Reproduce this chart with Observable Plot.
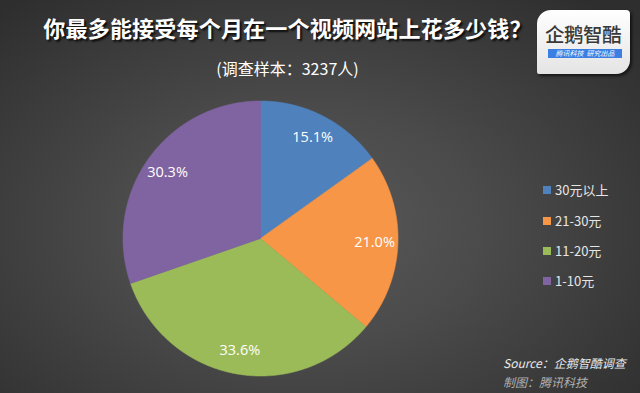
<!DOCTYPE html>
<html><head><meta charset="utf-8">
<script src="https://cdn.jsdelivr.net/npm/d3@7"></script>
<script src="https://cdn.jsdelivr.net/npm/@observablehq/plot@0.6"></script>
<style>
html,body{margin:0;padding:0;}
#wrap{position:relative;width:640px;height:393px;overflow:hidden;
  background:radial-gradient(ellipse 70% 75% at 47% 58%, #5a5a5a 0%, #4b4b4b 40%, #2e2e2e 100%);
  font-family:"Noto Sans CJK SC","Noto Sans",sans-serif;}
#title{position:absolute;left:0;width:575px;top:12px;text-align:center;font-size:22px;font-weight:bold;color:#fff;
  letter-spacing:0.2px;text-shadow:2px 2px 2px rgba(0,0,0,0.8);line-height:30px;}
#sub{position:absolute;left:0;width:575px;top:57px;text-align:center;font-size:16px;color:#fff;line-height:22px;}
#chart{position:absolute;left:0;top:90px;}
#legend{position:absolute;left:543px;top:0;}
.li{position:absolute;left:0;width:90px;height:18px;}
.sw{position:absolute;left:0;top:5px;width:8px;height:8px;}
.lt{position:absolute;left:12px;top:0;font-size:13px;line-height:18px;color:#e6e6e6;white-space:nowrap;}
#logo{position:absolute;left:537px;top:10px;width:93px;height:64px;
  background:linear-gradient(#ffffff,#e4e4e4);border-radius:14px 4px 14px 2px;box-shadow:2px 2px 3px rgba(0,0,0,0.6);}
#logo .n{position:absolute;left:8px;top:14px;font-size:19.5px;font-weight:500;color:#3a3a3a;letter-spacing:-0.5px;line-height:19px;white-space:nowrap;}
#logo .b{position:absolute;left:11px;top:39px;width:74px;height:9px;background:#3b7fe3;color:#fff;font-size:7px;line-height:9px;font-style:italic;text-align:center;white-space:nowrap;}
#src{position:absolute;left:503px;top:354px;font-size:12px;font-style:italic;color:#e8e8e8;line-height:18px;white-space:nowrap;}
#src2{position:absolute;left:503px;top:373px;font-size:12px;font-style:italic;color:#b0b0b0;line-height:18px;white-space:nowrap;}
</style></head>
<body>
<div id="wrap">
  <div id="title">你最多能接受每个月在一个视频网站上花多少钱？</div>
  <div id="sub">(调查样本：3237人)</div>
  <div id="chart"></div>
  <div id="legend"></div>
  <div id="logo"><div class="n">企鹅智酷</div><div class="b">腾讯科技&nbsp;&nbsp;研究出品</div></div>
  <div id="src">Source：企鹅智酷调查</div>
  <div id="src2">制图：腾讯科技</div>
</div>
<script>
const categories = ["30元以上", "21-30元", "11-20元", "1-10元"];
const values = [15.1, 21.0, 33.6, 30.3];
const valueLabels = ["15.1%", "21.0%", "33.6%", "30.3%"];
const colors = ["#4f81bd", "#f79646", "#9bbb59", "#8064a2"];

const rows = categories.map((c, i) => ({cat: c, value: values[i], label: valueLabels[i]}));
const arcs = d3.pie().sort(null).value(d => d.value)(rows);

const pts = [];
const labs = [];
arcs.forEach(a => {
  const cat = a.data.cat;
  pts.push({cat, x: 0, y: 0});
  const n = Math.max(8, Math.ceil((a.endAngle - a.startAngle) / 0.005));
  for (let k = 0; k <= n; k++) {
    const t = a.startAngle + (a.endAngle - a.startAngle) * k / n;
    pts.push({cat, x: Math.sin(t), y: Math.cos(t)});
  }
  pts.push({cat, x: 0, y: 0});
  const m = (a.startAngle + a.endAngle) / 2;
  const lr = 0.83;
  labs.push({cat, text: a.data.label, x: lr * Math.sin(m), y: lr * Math.cos(m)});
});

const cx = 260, cy = 148, r = 137.5;
const chart = Plot.plot({
  width: 640, height: 303,
  marginTop: 0, marginRight: 0, marginBottom: 0, marginLeft: 0,
  x: {domain: [-1, 1], range: [cx - r, cx + r], axis: null},
  y: {domain: [-1, 1], range: [cy + r, cy - r], axis: null},
  color: {domain: categories, range: colors},
  style: {background: "transparent", overflow: "visible"},
  marks: [
    Plot.line(pts, {x: "x", y: "y", z: "cat", fill: "cat", stroke: "cat", strokeWidth: 0.6}),
    Plot.text(labs, {x: "x", y: "y", text: "text", fill: "white", fontSize: 14.5,
      fontFamily: "'Open Sans','Noto Sans',sans-serif"})
  ]
});
document.getElementById("chart").appendChild(chart);

const color = d3.scaleOrdinal(categories, colors);
const legend = document.getElementById("legend");
const legendTops = [181, 212, 242, 272];
categories.forEach((c, i) => {
  const li = document.createElement("div");
  li.className = "li";
  li.style.top = legendTops[i] + "px";
  li.innerHTML = `<div class="sw" style="background:${color(c)}"></div><div class="lt">${c}</div>`;
  legend.appendChild(li);
});
</script>
</body></html>
